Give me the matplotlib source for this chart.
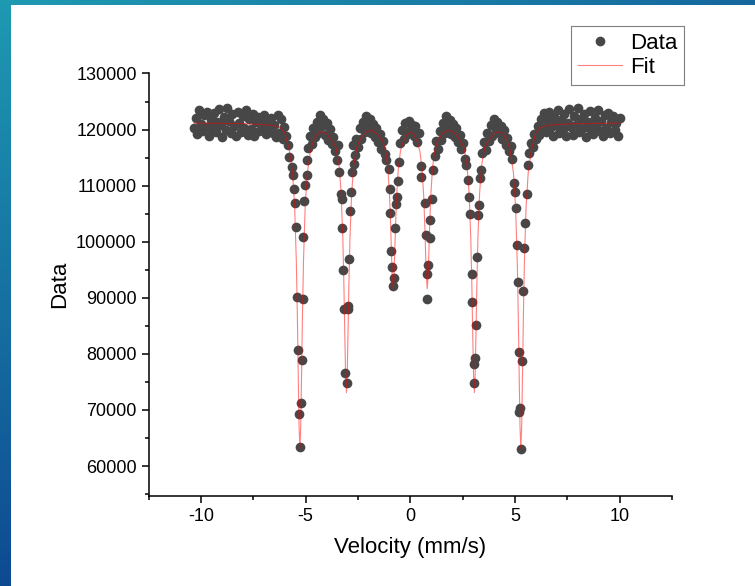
import numpy as np
import matplotlib.pyplot as plt
from matplotlib.patches import Rectangle
from matplotlib.ticker import MultipleLocator

plt.rcParams['font.family'] = ['Liberation Sans', 'DejaVu Sans']
plt.rcParams['axes.unicode_minus'] = False

# measured spectrum, (velocity mm/s, counts), split by region
wing_left = [
    (-10.33, 120300), (-10.25, 122100), (-10.17, 119200), (-10.09, 123400), (-10.01, 121000),
    (-9.93, 119800), (-9.85, 122600), (-9.77, 120500), (-9.69, 123100), (-9.61, 118900),
    (-9.53, 121700), (-9.45, 120200), (-9.37, 122900), (-9.29, 119500), (-9.21, 121300),
    (-9.13, 123600), (-9.05, 120800), (-8.97, 118700), (-8.89, 122300), (-8.81, 120000),
    (-8.73, 123800), (-8.65, 121500), (-8.57, 119300), (-8.49, 122700), (-8.41, 120600),
    (-8.33, 118800), (-8.25, 123200), (-8.17, 121100), (-8.09, 119600), (-8.01, 122400),
    (-7.93, 120300), (-7.85, 123500), (-7.77, 119000), (-7.69, 121800), (-7.61, 120100),
    (-7.53, 122800), (-7.45, 118900), (-7.37, 121400), (-7.29, 122200), (-7.21, 119700),
    (-7.13, 121900), (-7.05, 120400), (-6.97, 122600), (-6.89, 119200), (-6.81, 121200),
    (-6.73, 120000), (-6.65, 122100), (-6.57, 119400), (-6.49, 120900), (-6.41, 118600),
    (-6.33, 122600), (-6.25, 119300), (-6.17, 121800), (-6.09, 118400), (-6.01, 120500),
    (-5.93, 118800), (-5.85, 117200), (-5.77, 115100),
]
line1 = [
    (-5.66, 113300), (-5.59, 111850), (-5.55, 109470), (-5.51, 106970), (-5.46, 102610),
    (-5.43, 90090), (-5.36, 80740), (-5.29, 69240), (-5.26, 63450), (-5.24, 71210),
    (-5.19, 78950), (-5.14, 89810), (-5.11, 100820), (-5.06, 107200), (-5.03, 110190),
    (-4.95, 114530), (-4.92, 111850),
]
hump1 = [
    (-4.87, 116800), (-4.79, 118900), (-4.71, 117400), (-4.63, 120300), (-4.55, 118600),
    (-4.47, 121400), (-4.39, 119300), (-4.31, 122600), (-4.23, 120600), (-4.15, 121900),
    (-4.07, 119100), (-3.99, 121200), (-3.91, 118200), (-3.83, 120100), (-3.75, 117500),
    (-3.67, 118700), (-3.59, 116200),
]
line2 = [
    (-3.52, 114530), (-3.44, 117220), (-3.40, 112440), (-3.32, 108580), (-3.27, 107560),
    (-3.24, 102430), (-3.19, 95040), (-3.16, 88020), (-3.10, 76570), (-3.04, 74790),
    (-2.98, 88020), (-2.95, 88610), (-2.92, 96830), (-2.86, 105420), (-2.81, 108870),
    (-2.78, 112440), (-2.73, 117220), (-2.67, 113940), (-2.64, 115430),
]
hump2 = [
    (-2.58, 118400), (-2.50, 116900), (-2.42, 120200), (-2.34, 118300), (-2.26, 121300),
    (-2.18, 119500), (-2.10, 122400), (-2.02, 120700), (-1.94, 121800), (-1.86, 119400),
    (-1.78, 121000), (-1.70, 118600), (-1.62, 120300), (-1.54, 117700), (-1.46, 119200),
    (-1.38, 116600), (-1.30, 117900), (-1.22, 115600),
]
line3 = [
    (-1.14, 114530), (-1.03, 112920), (-0.99, 109470), (-0.95, 105180), (-0.90, 98420),
    (-0.87, 95440), (-0.82, 92180), (-0.78, 93490), (-0.71, 102430), (-0.67, 106790),
    (-0.63, 107970), (-0.59, 110780), (-0.54, 114230),
]
hump3 = [
    (-0.48, 117600), (-0.40, 119900), (-0.32, 118300), (-0.24, 121100), (-0.16, 119200),
    (-0.08, 121600), (0.00, 119800), (0.08, 120900), (0.16, 118900), (0.24, 120600),
    (0.32, 117800), (0.40, 119300),
]
line4 = [
    (0.49, 111550), (0.52, 113520), (0.68, 106970), (0.73, 101250), (0.78, 94280),
    (0.82, 89810), (0.85, 95890), (0.92, 100640), (0.95, 103810), (1.02, 107560),
    (1.08, 112750),
]
hump4 = [
    (1.16, 115200), (1.24, 117900), (1.32, 116600), (1.40, 119800), (1.48, 118100),
    (1.56, 121200), (1.64, 119400), (1.72, 122400), (1.80, 120500), (1.88, 121700),
    (1.96, 119200), (2.04, 121000), (2.12, 118700), (2.20, 120300), (2.28, 117800),
    (2.36, 119000), (2.44, 116500), (2.52, 117600), (2.60, 114800),
]
line5 = [
    (2.67, 113640), (2.78, 110960), (2.82, 107970), (2.87, 105000), (2.94, 94280),
    (2.96, 89200), (3.03, 78180), (3.06, 74890), (3.10, 79190), (3.14, 85160),
    (3.19, 97240), (3.25, 104820), (3.30, 106490), (3.35, 111370), (3.38, 112750),
]
hump5 = [
    (3.44, 115900), (3.52, 117700), (3.60, 116400), (3.68, 119300), (3.76, 117900),
    (3.84, 120800), (3.92, 118900), (4.00, 121900), (4.08, 120100), (4.16, 121400),
    (4.24, 119300), (4.32, 120700), (4.40, 118400), (4.48, 119900), (4.56, 117300),
    (4.64, 118500), (4.72, 116200), (4.80, 117100), (4.88, 114700),
]
line6 = [
    (4.97, 110550), (5.00, 108870), (5.05, 106010), (5.10, 99460), (5.13, 92900),
    (5.18, 80380), (5.21, 69660), (5.24, 70420), (5.28, 63090), (5.33, 78770),
    (5.40, 91290), (5.44, 98850), (5.48, 103400), (5.57, 108580), (5.60, 113640),
]
wing_right = [
    (5.68, 115800), (5.76, 117600), (5.84, 116900), (5.92, 119200), (6.00, 118300),
    (6.08, 120600), (6.16, 119100), (6.24, 121800), (6.32, 120200), (6.40, 122900),
    (6.48, 119600), (6.56, 121500), (6.64, 123100), (6.72, 120400), (6.80, 118800),
    (6.88, 122300), (6.96, 120900), (7.04, 123400), (7.12, 119400), (7.20, 121700),
    (7.28, 120100), (7.36, 122800), (7.44, 118900), (7.52, 121200), (7.60, 123600),
    (7.68, 120500), (7.76, 119100), (7.84, 122500), (7.92, 120800), (8.00, 123800),
    (8.08, 119500), (8.16, 121900), (8.24, 120200), (8.32, 122700), (8.40, 118700),
    (8.48, 121300), (8.56, 123300), (8.64, 120000), (8.72, 119200), (8.80, 122100),
    (8.88, 120700), (8.96, 123500), (9.04, 119800), (9.12, 121600), (9.20, 118800),
    (9.28, 122600), (9.36, 120300), (9.44, 123000), (9.52, 119300), (9.60, 121400),
    (9.68, 122400), (9.76, 119900), (9.84, 121100), (9.92, 118900), (10.00, 122000),
]

# sextet fit
fit_v = [-10.33, -9.0, -8.0, -7.0, -6.5, -6.2, -6.0, -5.77, -5.62, -5.52,
         -5.44, -5.39, -5.35, -5.31, -5.27, -5.23, -5.19, -5.15, -5.10, -5.02,
         -4.92, -4.77, -4.6, -4.4, -4.2, -4.0, -3.8, -3.55, -3.40, -3.30,
         -3.22, -3.17, -3.13, -3.09, -3.05, -3.01, -2.97, -2.93, -2.88, -2.80,
         -2.70, -2.55, -2.35, -2.1, -1.85, -1.6, -1.32, -1.17, -1.07, -0.99,
         -0.94, -0.90, -0.86, -0.82, -0.78, -0.74, -0.70, -0.65, -0.57, -0.47,
         -0.32, -0.15, 0.0, 0.15, 0.31, 0.46, 0.56, 0.64, 0.69, 0.73,
         0.77, 0.81, 0.85, 0.89, 0.93, 0.98, 1.06, 1.16, 1.31, 1.55,
         1.8, 2.05, 2.3, 2.56, 2.71, 2.81, 2.89, 2.94, 2.98, 3.02,
         3.06, 3.10, 3.14, 3.18, 3.23, 3.31, 3.41, 3.56, 3.8, 4.0,
         4.2, 4.4, 4.6, 4.78, 4.93, 5.03, 5.11, 5.16, 5.20, 5.24,
         5.28, 5.32, 5.36, 5.40, 5.45, 5.53, 5.63, 5.78, 6.0, 6.2,
         6.5, 7.0, 8.0, 9.0, 10.02]
fit_counts = [121150, 121100, 121050, 120900, 120700, 120300, 119500, 116300, 112190, 106080,
              96350, 86440, 76420, 67090, 63000, 67090, 76420, 86440, 96350, 106080,
              112190, 116110, 118300, 119400, 119600, 119300, 118300, 116900, 113660, 108630,
              100600, 92430, 84170, 76470, 73100, 76470, 84170, 92430, 100600, 108630,
              113660, 116900, 118500, 119600, 119900, 119300, 118060, 116110, 113070, 108220,
              103280, 98290, 93640, 91600, 93640, 98290, 103280, 108220, 113070, 116110,
              118060, 119200, 119500, 119200, 118060, 116110, 113070, 108220, 103280, 98290,
              93640, 91600, 93640, 98290, 103280, 108220, 113070, 116110, 118060, 119300,
              119900, 119600, 118500, 116900, 113660, 108630, 100600, 92430, 84170, 76470,
              73100, 76470, 84170, 92430, 100600, 108630, 113660, 116900, 118300, 119300,
              119600, 119400, 118300, 116110, 112190, 106080, 96350, 86440, 76420, 67090,
              63000, 67090, 76420, 86440, 96350, 106080, 112190, 116300, 119500, 120300,
              120700, 120900, 121050, 121100, 121150]

spectrum = np.array(wing_left + line1 + hump1 + line2 + hump2 + line3 + hump3
                    + line4 + hump4 + line5 + hump5 + line6 + wing_right)
velocity, counts = spectrum[:, 0], spectrum[:, 1]

fig = plt.figure(figsize=(7.55, 5.86), dpi=100)

# blue frame along the left and top edges
bg = fig.add_axes([0, 0, 1, 1], zorder=-10)
bg.axis('off')
yy, xx = np.mgrid[0:1:586j, 0:1:755j]
c0 = np.array([0x1e, 0x9a, 0xb2]) / 255
c_right = np.array([0x15, 0x67, 0x9d]) / 255
c_bottom = np.array([0x0e, 0x4a, 0x92]) / 255
grad = c0 + (c_right - c0) * xx[..., None] + (c_bottom - c0) * yy[..., None]
bg.imshow(np.clip(grad, 0, 1), extent=[0, 1, 0, 1], aspect='auto', origin='upper')
bg.add_patch(Rectangle((11 / 755, 0), 1, 1 - 5 / 586, color='white', lw=0))
bg.set_xlim(0, 1)
bg.set_ylim(0, 1)

ax = fig.add_axes([0.1967, 0.154, 0.6934, 0.7206])
ax.plot(velocity, counts, 'o', color='#474747', ms=7, mew=0, label='Data')
ax.plot(fit_v, fit_counts, color='red', lw=0.8, alpha=0.5, label='Fit')

ax.set_xlim(-12.5, 12.5)
ax.set_ylim(54700, 130000)
ax.xaxis.set_major_locator(MultipleLocator(5))
ax.xaxis.set_minor_locator(MultipleLocator(2.5))
ax.yaxis.set_major_locator(MultipleLocator(10000))
ax.yaxis.set_minor_locator(MultipleLocator(5000))
ax.ticklabel_format(style='plain', useOffset=False)
ax.tick_params(which='major', direction='out', length=5, width=1.1, labelsize=13)
ax.tick_params(which='minor', direction='out', length=3, width=1.1)
for side in ['top', 'right']:
    ax.spines[side].set_visible(False)
for side in ['left', 'bottom']:
    ax.spines[side].set_linewidth(1.1)

ax.set_xlabel('Velocity (mm/s)', fontsize=16, labelpad=9)
ax.set_ylabel('Data', fontsize=16, labelpad=4)

handles, labels = ax.get_legend_handles_labels()
leg = fig.legend(handles, labels, loc='upper right',
                 bbox_to_anchor=(684 / 755, 1 - 26 / 586), fontsize=16,
                 fancybox=False, edgecolor='#7f7f7f', framealpha=1,
                 borderpad=0.3, labelspacing=0.15, handlelength=2.0,
                 handletextpad=0.35, borderaxespad=0, numpoints=1)
leg.get_frame().set_linewidth(0.8)

fig.savefig('out.png', dpi=100)
